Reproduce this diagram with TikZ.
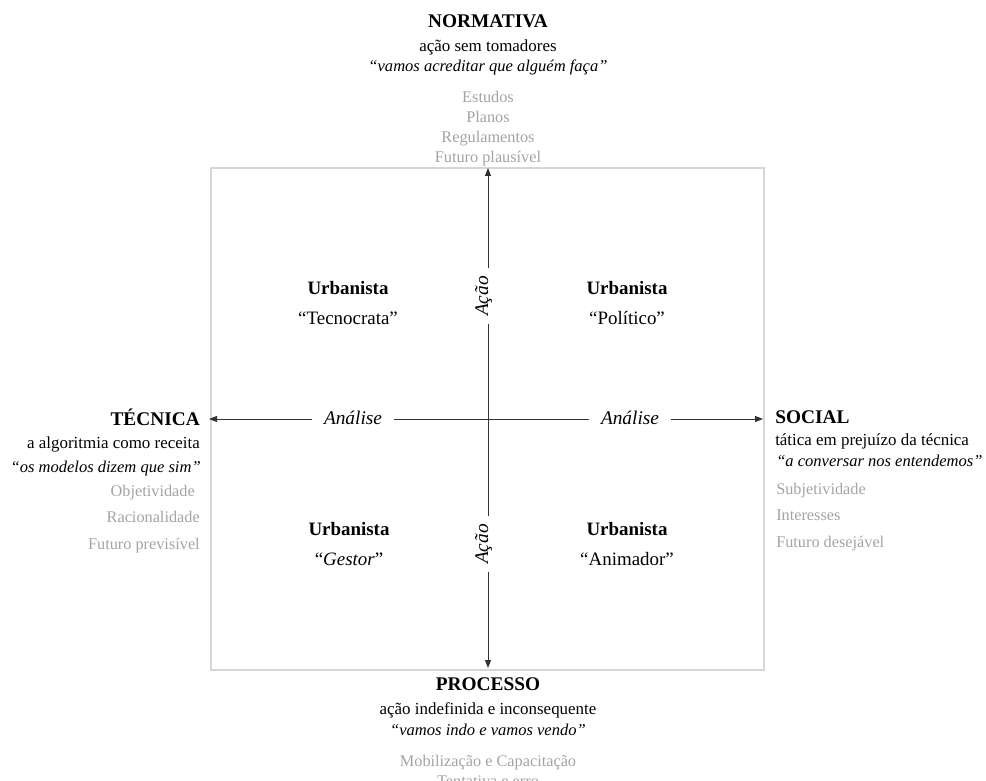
\documentclass[tikz,border=0pt]{standalone}
\usepackage{fontspec}
\setmainfont{Liberation Serif}
\usetikzlibrary{arrows.meta}
\definecolor{greytxt}{HTML}{A3A3A3}
\definecolor{boxline}{HTML}{D6D6D6}
\definecolor{axiscol}{HTML}{333333}
\begin{document}
\begin{tikzpicture}[x=0.75pt,y=-0.75pt,
  every node/.style={inner sep=0pt},
  head/.style={font=\fontsize{14.5}{17}\selectfont\bfseries},
  subline/.style={font=\fontsize{12.7}{15}\selectfont},
  quoteline/.style={font=\fontsize{12.4}{15}\selectfont\itshape},
  greyline/.style={font=\fontsize{12.2}{15}\selectfont, text=greytxt},
  urb/.style={font=\fontsize{14.2}{17}\selectfont\bfseries},
  role/.style={font=\fontsize{14.2}{17}\selectfont},
  axislabel/.style={font=\fontsize{14.5}{17}\selectfont\itshape},
  hlabel/.style={axislabel, inner xsep=8.5pt, inner ysep=0pt},
  vlabel/.style={axislabel, rotate=90, inner xsep=6pt, inner ysep=0pt},
  axisline/.style={draw=axiscol, line width=0.7pt},
  axisarrow/.style={axisline, -{Triangle[length=6pt,width=4.5pt]}},
]
\useasboundingbox (0,0) rectangle (986,781);

% frame
\draw[boxline, line width=0.8pt] (211,168) rectangle (764,670);

% axis points
\coordinate (C) at (488,419);
\coordinate (tipN) at (488,168);
\coordinate (tipS) at (488,668);
\coordinate (tipW) at (209,419);
\coordinate (tipE) at (763,419);

% axis labels
\node[vlabel, anchor=base] (acaoN) at (488,296) {Ação};
\node[vlabel, anchor=base] (acaoS) at (488,544) {Ação};
\node[hlabel, anchor=center] (analW) at (353,418) {Análise};
\node[hlabel, anchor=center] (analE) at (630,418) {Análise};

% axes
\draw[axisline] (C) -- (acaoN.base west);
\draw[axisarrow] (acaoN.base east) -- (tipN);
\draw[axisline] (C) -- (acaoS.base east);
\draw[axisarrow] (acaoS.base west) -- (tipS);
\draw[axisline] (C) -- (C -| analW.east);
\draw[axisarrow] (C -| analW.west) -- (tipW);
\draw[axisline] (C) -- (C -| analE.west);
\draw[axisarrow] (C -| analE.east) -- (tipE);

% top block
\node[head, anchor=base] (nT) at (488,28) {NORMATIVA};
\node[subline, anchor=base] (nS) at (488,52) {ação sem tomadores};
\node[quoteline, anchor=base] (nQ) at (488,72) {“vamos acreditar que alguém faça”};
\node[greyline, anchor=base] (n1) at (488,103) {Estudos};
\node[greyline, anchor=base] (n2) at (488,123) {Planos};
\node[greyline, anchor=base] (n3) at (488,143) {Regulamentos};
\node[greyline, anchor=base] (n4) at (488,163) {Futuro plausível};

% left block
\node[head, anchor=base east] (tT) at (200,425) {TÉCNICA};
\node[subline, anchor=base east] (tS) at (200,448) {a algoritmia como receita};
\node[quoteline, anchor=base east] (tQ) at (201,472) {“os modelos dizem que sim”};
\node[greyline, anchor=base east] (t1) at (195,496) {Objetividade};
\node[greyline, anchor=base east] (t2) at (200,522) {Racionalidade};
\node[greyline, anchor=base east] (t3) at (200,549) {Futuro previsível};

% right block
\node[head, anchor=base west] (sT) at (775,423) {SOCIAL};
\node[subline, anchor=base west] (sS) at (775,445) {tática em prejuízo da técnica};
\node[quoteline, anchor=base west] (sQ) at (776,466) {“a conversar nos entendemos”};
\node[greyline, anchor=base west] (s1) at (776,494) {Subjetividade};
\node[greyline, anchor=base west] (s2) at (776,520) {Interesses};
\node[greyline, anchor=base west] (s3) at (776,547) {Futuro desejável};

% bottom block
\node[head, anchor=base] (pT) at (488,690) {PROCESSO};
\node[subline, anchor=base] (pS) at (488,714) {ação indefinida e inconsequente};
\node[quoteline, anchor=base] (pQ) at (488,735) {“vamos indo e vamos vendo”};
\node[greyline, anchor=base] (p1) at (488,766) {Mobilização e Capacitação};
\node[greyline, anchor=base] (p2) at (488,786) {Tentativa e erro};

% quadrants
\node[urb, anchor=base] (q1a) at (348,295) {Urbanista};
\node[role, anchor=base] (q1b) at (348,325) {“Tecnocrata”};
\node[urb, anchor=base] (q2a) at (627,295) {Urbanista};
\node[role, anchor=base] (q2b) at (627,325) {“Político”};
\node[urb, anchor=base] (q3a) at (349,535) {Urbanista};
\node[role, anchor=base] (q3b) at (349,565) {“\textit{Gestor}”};
\node[urb, anchor=base] (q4a) at (627,535) {Urbanista};
\node[role, anchor=base] (q4b) at (627,565) {“Animador”};
\end{tikzpicture}
\end{document}
